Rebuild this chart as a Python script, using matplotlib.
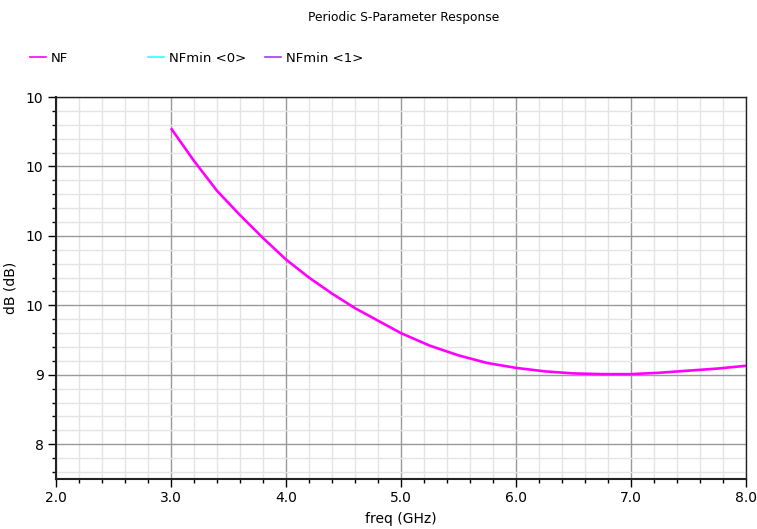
import matplotlib
matplotlib.use("Agg")
import matplotlib.pyplot as plt
from matplotlib.ticker import MultipleLocator, FixedLocator
from matplotlib.lines import Line2D

# Data
freq_ghz = [3.0, 3.2, 3.4, 3.6, 3.8, 4.0, 4.2, 4.4, 4.6, 4.8, 5.0, 5.25, 5.5,
            5.75, 6.0, 6.25, 6.5, 6.75, 7.0, 7.25, 7.5, 7.75, 8.0]
nf_db = [12.55, 12.08, 11.65, 11.30, 10.97, 10.66, 10.40, 10.17, 9.96, 9.78,
         9.60, 9.42, 9.28, 9.17, 9.10, 9.05, 9.02, 9.01, 9.01, 9.03, 9.06,
         9.09, 9.13]
nfmin0 = []
nfmin1 = []
x_ticks = [2.0, 3.0, 4.0, 5.0, 6.0, 7.0, 8.0]
x_labels = ["2.0", "3.0", "4.0", "5.0", "6.0", "7.0", "8.0"]
y_ticks = [8, 9, 10, 11, 12, 13]
y_labels = ["8", "9", "10", "10", "10", "10"]

fig = plt.figure(figsize=(7.57, 5.29), dpi=100)
ax = fig.add_axes([56/757, 1-479/529, (746-56)/757, (479-97)/529])

ax.plot(freq_ghz, nf_db, color="#ff00ff", lw=1.9, solid_capstyle="butt")
ax.plot(nfmin0, nfmin0, color="#33ffff", lw=1.2)
ax.plot(nfmin1, nfmin1, color="#a040e0", lw=1.2)

ax.set_xlim(2.0, 8.0)
ax.set_ylim(7.5, 13.0)
ax.xaxis.set_major_locator(FixedLocator(x_ticks))
ax.set_xticklabels(x_labels)
ax.xaxis.set_minor_locator(MultipleLocator(0.2))
ax.yaxis.set_major_locator(FixedLocator(y_ticks))
ax.set_yticklabels(y_labels)
ax.yaxis.set_minor_locator(MultipleLocator(0.2))

ax.grid(which="major", color="#999999", lw=1.0)
ax.grid(which="minor", color="#e4e4e4", lw=1.0)
ax.set_axisbelow(True)

ax.tick_params(which="major", direction="out", length=6, width=1, labelsize=10, color="black", pad=3)
ax.tick_params(which="minor", direction="out", length=3, width=1, color="black")
for s in ax.spines.values():
    s.set_linewidth(1.0)
    s.set_color("#222222")
ax.spines["left"].set_linewidth(1.5)
ax.spines["bottom"].set_linewidth(1.5)

ax.set_xlabel("freq (GHz)", fontsize=10, labelpad=5)
ax.set_ylabel("dB (dB)", fontsize=10, labelpad=6)

fig.text(404/757, 1-18/529, "Periodic S-Parameter Response", ha="center", va="center", fontsize=8.8)

entries = [("NF", "#ff00ff", 30), ("NFmin <0>", "#33ffff", 148), ("NFmin <1>", "#a040e0", 265)]
for lab, col, xp in entries:
    leg = fig.legend(handles=[Line2D([], [], color=col, lw=1.2)], labels=[lab],
                     loc="center left", bbox_to_anchor=(xp/757, 1-58/529),
                     frameon=False, fontsize=9.5, handlelength=1.2, handletextpad=0.4,
                     borderpad=0, borderaxespad=0)

fig.savefig("out.png", dpi=100)
